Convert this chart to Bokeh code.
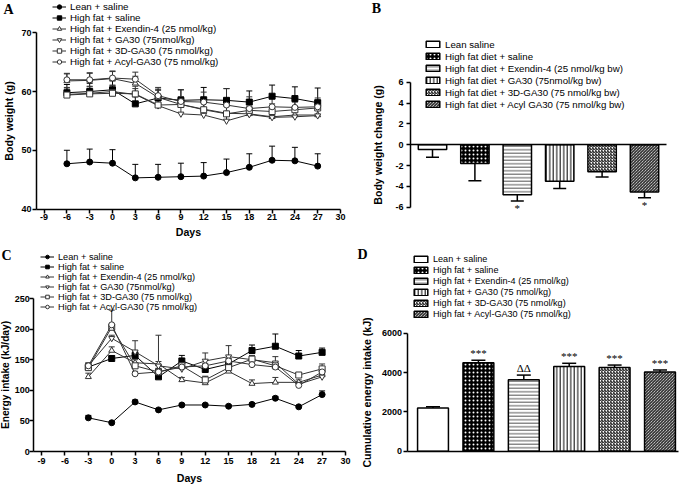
from bokeh.plotting import figure
from bokeh.models import (ColumnDataSource, Whisker, TeeHead, Legend, LegendItem, Label,
                          LabelSet, SingleIntervalTicker, FixedTicker, Range1d, PrintfTickFormatter)
from bokeh.core.properties import field
from bokeh.layouts import column, row
from bokeh.embed import file_html
from bokeh.resources import INLINE

FONT = "Liberation Sans"
SERIF = "Liberation Serif"

# ---------------- Panel A: body weight ----------------
days_a = [-6, -3, 0, 3, 6, 9, 12, 15, 18, 21, 24, 27]
bw_lean = [47.7, 48.0, 47.8, 45.3, 45.4, 45.5, 45.6, 46.2, 47.1, 48.3, 48.2, 47.3]
bw_hf = [59.8, 60.0, 60.3, 57.9, 58.9, 58.5, 58.6, 58.5, 58.2, 59.2, 58.8, 58.1]
bw_ex = [61.8, 61.9, 62.2, 61.4, 59.0, 57.8, 57.0, 56.3, 56.2, 55.7, 56.0, 56.0]
bw_ga = [59.5, 59.7, 60.0, 59.5, 57.6, 56.2, 56.0, 55.0, 56.1, 55.6, 55.7, 55.9]
bw_3d = [59.4, 59.6, 59.7, 59.6, 57.7, 57.8, 56.9, 56.2, 56.8, 56.6, 56.9, 57.2]
bw_acyl = [62.0, 62.0, 62.3, 62.1, 59.3, 58.3, 58.2, 57.7, 57.1, 57.4, 57.3, 57.4]
sem_a_lean = [2.3, 2.2, 2.3, 2.3, 2.2, 2.3, 2.3, 2.3, 2.3, 2.4, 2.3, 2.1]
sem_a_hf = [1.4, 1.4, 1.5, 1.2, 1.5, 1.8, 2.1, 2.0, 1.9, 1.9, 2.0, 2.5]
sem_a_ex = [1.2, 1.2, 1.2, 1.2, 1.2, 1.3, 1.3, 1.3, 1.2, 1.2, 1.2, 1.2]
sem_a_ga = [1.1, 1.1, 1.1, 1.0, 1.1, 1.1, 1.2, 1.2, 1.1, 1.2, 1.1, 1.1]
sem_a_3d = [1.3, 1.3, 1.3, 1.3, 1.3, 1.3, 1.3, 1.3, 1.3, 1.3, 1.3, 1.3]
sem_a_acyl = [1.1, 1.2, 1.2, 1.2, 1.4, 2.0, 1.7, 2.8, 2.0, 1.5, 1.5, 1.5]

names_ac = ["Lean + saline", "High fat + saline", "High fat + Exendin-4 (25 nmol/kg)",
            "High fat + GA30 (75nmol/kg)", "High fat + 3D-GA30 (75 nmol/kg)",
            "High fat + Acyl-GA30 (75 nmol/kg)"]

# ---------------- Panel B: body weight change ----------------
groups = [1, 2, 3, 4, 5, 6]
names_b = ["Lean saline", "High fat diet + saline", "High fat diet + Exendin-4 (25 nmol/kg bw)",
           "High fat diet + GA30 (75nmol/kg bw)", "High fat diet + 3D-GA30 (75 nmol/kg bw)",
           "High fat diet + Acyl GA30 (75 nmol/kg bw)"]
bw_change = [-0.45, -1.8, -4.8, -3.5, -2.6, -4.55]
bw_change_sem = [0.75, 1.65, 0.6, 0.7, 0.5, 0.55]
bw_change_sig = ["", "", "*", "", "", "*"]

# ---------------- Panel C: energy intake ----------------
days_c = [-3, 0, 3, 6, 9, 12, 15, 18, 21, 24, 27]
ei_lean = [55, 47, 81, 68, 76, 76, 74, 77, 87, 73, 93]
ei_hf = [138, 152, 157, 122, 148, 134, 143, 165, 172, 156, 162]
ei_ex = [122, 165, 145, 143, 117, 112, 131, 111, 113, 113, 125]
ei_ga = [140, 185, 163, 140, 135, 148, 155, 150, 145, 110, 122]
ei_3d = [137, 203, 140, 130, 140, 117, 137, 151, 140, 125, 135]
ei_acyl = [140, 207, 127, 130, 138, 140, 148, 142, 138, 108, 130]
sem_c_lean = [4, 2, 3, 2, 2, 2, 2, 2, 3, 2, 6]
sem_c_hf = [4, 4, 6, 4, 9, 8, 8, 9, 20, 9, 7]
sem_c_ex = [6, 6, 5, 4, 4, 4, 4, 6, 8, 4, 4]
sem_c_ga = [5, 5, 18, 50, 5, 13, 18, 5, 10, 4, 4]
sem_c_3d = [4, 5, 5, 6, 5, 6, 5, 6, 6, 4, 8]
sem_c_acyl = [4, 24, 4, 5, 4, 4, 4, 5, 6, 4, 5]

# ---------------- Panel D: cumulative energy intake ----------------
names_d = ["Lean + saline", "High fat + saline", "High fat + Exendin-4 (25 nmol/kg)",
           "High fat + GA30 (75 nmol/kg)", "High fat + 3D-GA30 (75 nmol/kg)",
           "High fat + Acyl-GA30 (75 nmol/kg)"]
cum_ei = [2200, 4500, 3630, 4310, 4260, 4030]
cum_ei_sem = [60, 130, 240, 160, 120, 100]
cum_ei_sig = ["", "***", "\u0394\u0394", "***", "***", "***"]

# ---------------- styles ----------------
line_styles = [("circle", "black", "black"), ("square", "black", "black"),
               ("triangle", "white", "#333333"), ("inverted_triangle", "white", "#333333"),
               ("square", "white", "#333333"), ("circle", "white", "#333333")]
bar_fill = ["white", "black", "white", "white", "white", "white"]
bar_hatch = ["blank", "dot", "horizontal_line", "vertical_line", "right_diagonal_line", "left_diagonal_line"]
bar_hcolor = ["black", "white", "#555555", "black", "black", "black"]
bar_hscale = [4, 4, 3.5, 3.5, 3, 3]


def pix_range(v0, p0, v1, p1, size):
    """Range so that value v0 lands at pixel p0 and v1 at p1 (pixels from start edge)."""
    s = (p1 - p0) / (v1 - v0)
    return Range1d(v0 - p0 / s, v0 + (size - p0) / s)


def make_fig(w, h, xa, ya, xb, yb):
    # xa = (x0, px0, x1, px1) px from left; ya = (y0, py0, y1, py1) px from top
    xr = pix_range(xa[0], xa[1], xa[2], xa[3], w)
    yr = pix_range(ya[0], h - ya[1], ya[2], h - ya[3], h)
    p = figure(width=w, height=h, x_range=xr, y_range=yr, output_backend="svg",
               toolbar_location=None, min_border_left=0, min_border_right=0,
               min_border_top=0, min_border_bottom=0)
    p.outline_line_color = None
    p.xgrid.visible = False
    p.ygrid.visible = False
    p.background_fill_color = "white"
    p.border_fill_color = "white"
    p.xaxis.fixed_location = yb[0]
    p.xaxis.bounds = xb
    p.yaxis.fixed_location = xb[0]
    p.yaxis.bounds = yb
    for ax in (p.xaxis[0], p.yaxis[0]):
        ax.formatter = PrintfTickFormatter(format="%d")
        ax.axis_line_width = 1.5
        ax.axis_line_color = "black"
        ax.major_tick_line_width = 1.5
        ax.major_tick_line_color = "black"
        ax.major_tick_in = 0
        ax.major_tick_out = 4
        ax.minor_tick_line_color = None
        ax.major_label_text_font = FONT
        ax.major_label_text_font_style = "bold"
        ax.major_label_text_font_size = "9px"
        ax.major_label_text_color = "black"
        ax.axis_label_text_font = FONT
        ax.axis_label_text_font_style = "bold"
        ax.axis_label_text_font_size = "10.6px"
        ax.axis_label_text_color = "black"
        ax.major_label_standoff = 1
    return p


def letter(p, txt, x, y):
    p.add_layout(Label(x=x, y=p.height - y, x_units="screen", y_units="screen", text=txt,
                       text_font=SERIF, text_font_style="bold", text_font_size="14px",
                       text_align="center", text_baseline="middle", text_color="black"))


def legend_bottom(p, top, row_h, spacing, font_px):
    pitch = max(row_h, font_px * 1.12)
    return p.height - top - (6 * pitch + 5 * spacing)


def line_panel(p, xs, series, sems, names, leg_x, leg_top, font_px, row_h, spacing):
    items = []
    for ys, es, name, (marker, fill, color) in zip(series, sems, names, line_styles):
        src = ColumnDataSource(dict(x=xs, y=ys, top=[a + b for a, b in zip(ys, es)]))
        p.add_layout(Whisker(source=src, base="x", upper="top", lower="y", line_color=color,
                             line_width=1,
                             upper_head=TeeHead(size=6, line_color=color, line_width=1),
                             lower_head=None))
        lr = p.line("x", "y", source=src, line_color=color, line_width=1)
        sr = p.scatter("x", "y", source=src, marker=marker, size=6, fill_color=fill,
                       line_color=color, line_width=1)
        items.append(LegendItem(label=name, renderers=[lr, sr]))
    leg = Legend(items=items, location=(leg_x, legend_bottom(p, leg_top, row_h, spacing, font_px)),
                 orientation="vertical", padding=0, margin=0,
                 spacing=spacing, label_text_font=FONT, label_text_font_size=f"{font_px}px",
                 label_text_color="black",
                 label_height=row_h, glyph_height=row_h, glyph_width=14, label_standoff=4,
                 border_line_color=None, background_fill_alpha=0)
    p.add_layout(leg)


def bar_panel(p, vals, sems, sigs, names, leg_x, leg_top, font_px, row_h, spacing, width, cap,
              negative):
    if negative:
        ends = [v - s for v, s in zip(vals, sems)]
    else:
        ends = [v + s for v, s in zip(vals, sems)]
    src = ColumnDataSource(dict(x=groups, top=vals, end=ends, sig=sigs, fill=bar_fill,
                                hatch=bar_hatch, hcolor=bar_hcolor, hscale=bar_hscale))
    r = p.vbar(x="x", top="top", bottom=0, width=width, source=src, fill_color=field("fill"),
               line_color="black", line_width=1.5, hatch_pattern=field("hatch"),
               hatch_color=field("hcolor"), hatch_scale=field("hscale"), hatch_weight=1)
    head = TeeHead(size=cap, line_color="black", line_width=1.5)
    if negative:
        p.add_layout(Whisker(source=src, base="x", upper="top", lower="end", line_color="black",
                             line_width=1.5, lower_head=head, upper_head=None))
        p.add_layout(LabelSet(x="x", y="end", text="sig", source=src, text_align="center",
                              text_baseline="top", y_offset=-1, text_font=FONT,
                              text_font_size="11px", text_color="black"))
    else:
        p.add_layout(Whisker(source=src, base="x", upper="end", lower="top", line_color="black",
                             line_width=1.5, upper_head=head, lower_head=None))
        p.add_layout(LabelSet(x="x", y="end", text="sig", source=src, text_align="center",
                              text_baseline="bottom", y_offset=1, text_font=FONT,
                              text_font_size="11px", text_color="black"))
    items = [LegendItem(label=n, renderers=[r], index=i) for i, n in enumerate(names)]
    leg = Legend(items=items, location=(leg_x, legend_bottom(p, leg_top, row_h, spacing, font_px)),
                 orientation="vertical", padding=0, margin=0,
                 spacing=spacing, label_text_font=FONT, label_text_font_size=f"{font_px}px",
                 label_text_color="black",
                 label_height=row_h, glyph_height=8, glyph_width=17, label_standoff=4,
                 border_line_color=None, background_fill_alpha=0)
    p.add_layout(leg)
    p.xaxis.ticker = FixedTicker(ticks=[])
    p.xaxis.major_label_text_font_size = "0px"
    p.xaxis.major_tick_line_color = None


# ---- A (page origin 0, 0) ----
pA = make_fig(351, 242, (-10, 36, 30, 340), (70, 32.3, 40, 208.5), (-10, 30), (40, 70))
pA.xaxis.ticker = SingleIntervalTicker(interval=3, num_minor_ticks=0)
pA.yaxis.ticker = SingleIntervalTicker(interval=10, num_minor_ticks=0)
pA.xaxis.axis_label = "Days"
pA.yaxis.axis_label = "Body weight (g)"
pA.xaxis.axis_label_standoff = 2
pA.yaxis.axis_label_standoff = 3
line_panel(pA, days_a, [bw_lean, bw_hf, bw_ex, bw_ga, bw_3d, bw_acyl],
           [sem_a_lean, sem_a_hf, sem_a_ex, sem_a_ga, sem_a_3d, sem_a_acyl],
           names_ac, 52, 0.5, 9.8, 11, 0)
letter(pA, "A", 8, 8.5)

# ---- B (page origin 351, 0) ----
pB = make_fig(334, 242, (1, 81, 6, 293), (6, 81.7, -6, 206.7), (0.48, 6.52), (-6, 6))
pB.xaxis.fixed_location = 0
pB.yaxis.ticker = SingleIntervalTicker(interval=2, num_minor_ticks=0)
pB.yaxis.axis_label = "Body weight change (g)"
pB.yaxis.axis_label_standoff = 8
pB.yaxis.major_label_standoff = 3
bar_panel(pB, bw_change, bw_change_sem, bw_change_sig, names_b, 73, 39.5, 9.7, 10, 1,
          0.67, 13, True)
letter(pB, "B", 25, 7.5)

# ---- C (page origin 0, 242) ----
pC = make_fig(351, 243, (-10, 33.3, 30, 345), (250, 56, 0, 209), (-10, 30), (0, 250))
pC.xaxis.ticker = SingleIntervalTicker(interval=3, num_minor_ticks=0)
pC.yaxis.ticker = SingleIntervalTicker(interval=50, num_minor_ticks=0)
pC.xaxis.axis_label = "Days"
pC.yaxis.axis_label = "Energy intake (kJ/day)"
pC.yaxis.axis_label_text_font_size = "10.2px"
pC.xaxis.axis_label_standoff = 5
pC.yaxis.axis_label_standoff = 0
pC.yaxis.major_label_standoff = 0
pC.xaxis.major_label_standoff = 2
line_panel(pC, days_c, [ei_lean, ei_hf, ei_ex, ei_ga, ei_3d, ei_acyl],
           [sem_c_lean, sem_c_hf, sem_c_ex, sem_c_ga, sem_c_3d, sem_c_acyl],
           names_ac, 40, 8.0, 9.2, 9, 0)
letter(pC, "C", 6, 13)

# ---- D (page origin 351, 242) ----
pD = make_fig(334, 243, (1, 81.5, 6, 308.5), (6000, 90.7, 0, 208.7), (0.43, 6.41), (0, 6000))
pD.yaxis.ticker = SingleIntervalTicker(interval=2000, num_minor_ticks=0)
pD.yaxis.axis_label = "Cumulative energy intake (kJ)"
pD.yaxis.axis_label_standoff = 6
bar_panel(pD, cum_ei, cum_ei_sem, cum_ei_sig, names_d, 61, 11.5, 9.1, 11, 0,
          0.68, 14, False)
letter(pD, "D", 11, 12)

layout = column(row(pA, pB), row(pC, pD))
open("out.html", "w").write(file_html(layout, INLINE, "Figure"))
